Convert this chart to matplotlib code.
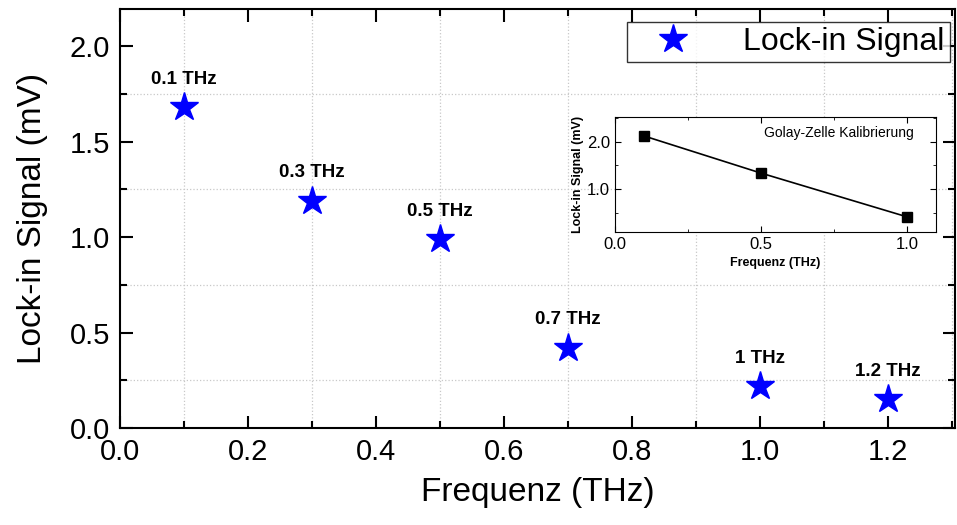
import matplotlib
matplotlib.use("Agg")
import matplotlib.pyplot as plt
from matplotlib.ticker import MultipleLocator

plt.rcParams['font.family'] = ['Liberation Sans', 'DejaVu Sans']

# Daten: Lock-in Signal über Frequenz
freq = [0.1, 0.3, 0.5, 0.7, 1.0, 1.2]
signal = [1.68, 1.19, 0.99, 0.42, 0.22, 0.15]
labels = ['0.1 THz', '0.3 THz', '0.5 THz', '0.7 THz', '1 THz', '1.2 THz']

# Kalibrierung der Golay-Zelle (Inset)
cal_freq = [0.1, 0.5, 1.0]
cal_signal = [2.12, 1.34, 0.42]

fig = plt.figure(figsize=(9.57, 5.25), dpi=100)
W, H = 957, 525
ax = fig.add_axes([120 / W, (H - 428) / H, (955 - 120) / W, (428 - 9) / H])

ax.plot(freq, signal, linestyle='none', marker='*', markersize=21,
        color='#0000ff', label='Lock-in Signal')
for x, y, t in zip(freq, signal, labels):
    ax.annotate(t, (x, y), xytext=(0, 14), textcoords='offset points',
                ha='center', va='bottom', fontsize=13.5, fontweight='bold')

ax.set_xlim(0, 1.305)
ax.set_ylim(0, 2.195)
ax.xaxis.set_major_locator(MultipleLocator(0.2))
ax.xaxis.set_minor_locator(MultipleLocator(0.1))
ax.yaxis.set_major_locator(MultipleLocator(0.5))
ax.yaxis.set_minor_locator(MultipleLocator(0.25))
ax.xaxis.set_major_formatter(plt.FormatStrFormatter('%.1f'))
ax.yaxis.set_major_formatter(plt.FormatStrFormatter('%.1f'))
ax.tick_params(which='both', direction='in', top=True, right=True, width=1.5,
               labelsize=21)
ax.tick_params(which='major', length=9)
ax.tick_params(which='minor', length=5)
ax.tick_params(axis='x', pad=7)
ax.tick_params(axis='y', pad=7)
ax.grid(which='minor', linestyle=':', color='#c8c8c8', linewidth=0.9)
for s in ax.spines.values():
    s.set_linewidth(1.5)
ax.set_xlabel('Frequenz (THz)', fontsize=24, labelpad=8)
ax.set_ylabel('Lock-in Signal (mV)', fontsize=24, labelpad=16)

leg = ax.legend(loc='upper right', fontsize=23, fancybox=False, edgecolor='black',
                handletextpad=0.9, borderpad=0.15, handlelength=2.6,
                borderaxespad=0, bbox_to_anchor=(0.9935, 0.969))
leg.get_frame().set_linewidth(1.0)

# Inset
ins = fig.add_axes([615 / W, (H - 232) / H, (936 - 615) / W, (232 - 117) / H])
ins.plot(cal_freq, cal_signal, color='black', linewidth=1.2, marker='s',
         markersize=7)
ins.set_xlim(0, 1.1)
ins.set_ylim(0.1, 2.52)
ins.xaxis.set_major_locator(MultipleLocator(0.5))
ins.xaxis.set_minor_locator(MultipleLocator(0.25))
ins.yaxis.set_major_locator(MultipleLocator(1.0))
ins.yaxis.set_minor_locator(MultipleLocator(0.5))
ins.xaxis.set_major_formatter(plt.FormatStrFormatter('%.1f'))
ins.yaxis.set_major_formatter(plt.FormatStrFormatter('%.1f'))
ins.tick_params(which='both', direction='in', top=True, right=True, labelsize=12)
ins.tick_params(which='major', length=4)
ins.tick_params(which='minor', length=2.5)
ins.set_xlabel('Frequenz (THz)', fontsize=9, fontweight='bold')
ins.set_ylabel('Lock-in Signal (mV)', fontsize=9, fontweight='bold', labelpad=2)
ins.text(0.93, 0.86, 'Golay-Zelle Kalibrierung', transform=ins.transAxes,
         ha='right', va='center', fontsize=10)

fig.savefig('out.png', dpi=100)
